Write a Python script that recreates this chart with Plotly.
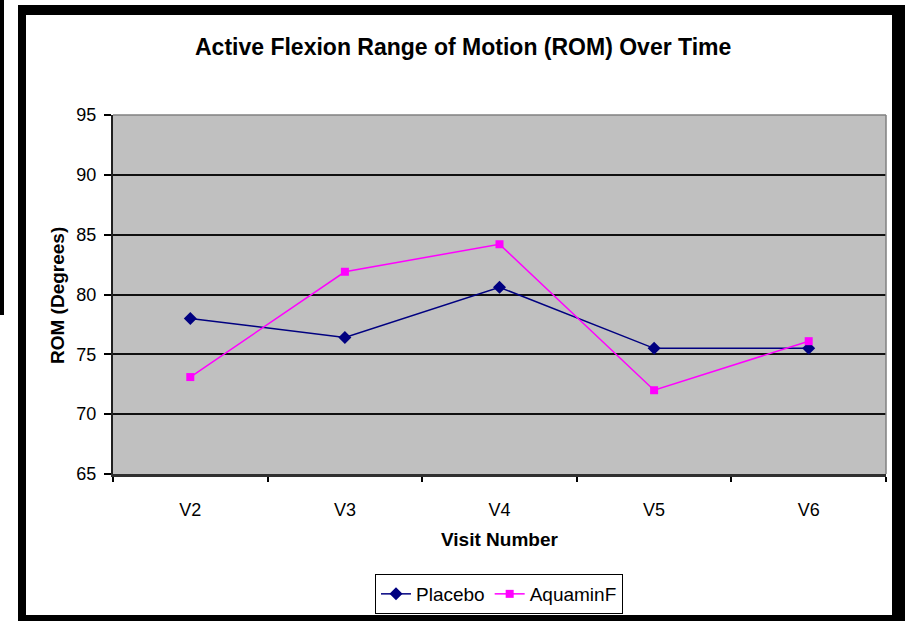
import plotly.graph_objects as go

visits = ["V2", "V3", "V4", "V5", "V6"]
placebo = [78.0, 76.4, 80.6, 75.5, 75.5]
aquaminf = [73.1, 81.9, 84.2, 72.0, 76.1]
y_ticks = [65, 70, 75, 80, 85, 90, 95]

W, H = 905, 621
L, R, T, B = 113, 19, 115, 147
PW, PH = W - L - R, H - T - B

def px(x):
    return (x - L) / PW

def py(y):
    return (H - B - y) / PH

FONT = "Arial, 'Liberation Sans', sans-serif"

fig = go.Figure()
fig.add_trace(go.Scatter(
    x=visits, y=placebo, name="Placebo", mode="lines+markers",
    line=dict(color="#000080", width=1.5),
    marker=dict(symbol="diamond", size=10, color="#000080"),
))
fig.add_trace(go.Scatter(
    x=visits, y=aquaminf, name="AquaminF", mode="lines+markers",
    line=dict(color="#FF00FF", width=1.5),
    marker=dict(symbol="square", size=8, color="#FF00FF"),
))

shapes = []
def rect(x0, y0, x1, y1, color="black"):
    shapes.append(dict(type="rect", xref="paper", yref="paper",
                       x0=px(x0), x1=px(x1), y0=py(y1), y1=py(y0),
                       fillcolor=color, line=dict(width=0), layer="above"))

# outer black frame and strip
rect(0, 0, 4, 315)
rect(18, 5, 26, 621)
rect(18, 5, 905, 15)
rect(892, 5, 905, 621)
rect(18, 615, 905, 621)

# gray top/right plot border
shapes.append(dict(type="line", xref="paper", yref="paper", x0=0, x1=1, y0=1, y1=1,
                   line=dict(color="#808080", width=1.5)))
shapes.append(dict(type="line", xref="paper", yref="paper", x0=1, x1=1, y0=0, y1=1,
                   line=dict(color="#808080", width=1.5)))

annotations = [
    dict(text="<b>Active Flexion Range of Motion (ROM) Over Time</b>", xref="paper", yref="paper",
         x=px(463), y=py(47), showarrow=False, xanchor="center", yanchor="middle",
         font=dict(family=FONT, size=23, color="black")),
    dict(text="<b>Visit Number</b>", xref="paper", yref="paper",
         x=px(499), y=py(539), showarrow=False, xanchor="center", yanchor="middle",
         font=dict(family=FONT, size=19, color="black")),
    dict(text="<b>ROM (Degrees)</b>", xref="paper", yref="paper", textangle=-90,
         x=px(57), y=py(296), showarrow=False, xanchor="center", yanchor="middle",
         font=dict(family=FONT, size=19, color="black")),
]

fig.update_layout(
    width=W, height=H, autosize=False,
    margin=dict(l=L, r=R, t=T, b=B, pad=0, autoexpand=False),
    paper_bgcolor="white",
    plot_bgcolor="#C0C0C0",
    font=dict(family=FONT, size=18, color="black"),
    showlegend=True,
    legend=dict(orientation="h", xref="container", yref="container",
                x=499 / W, xanchor="center", y=1 - 574 / H, yanchor="top",
                bgcolor="white", bordercolor="black", borderwidth=1,
                font=dict(family=FONT, size=19, color="black"),
                itemwidth=30, tracegroupgap=0),
    shapes=shapes,
    annotations=annotations,
    xaxis=dict(type="category", categoryorder="array", categoryarray=visits,
               range=[-0.5, 4.5], showgrid=False, zeroline=False, automargin=False,
               showline=True, linecolor="#303030", linewidth=2.5,
               ticks="outside", tickson="boundaries", ticklen=5, tickcolor="black",
               tickwidth=1.5, ticklabelstandoff=18,
               tickfont=dict(family=FONT, size=18, color="black")),
    yaxis=dict(range=[65, 95], tickvals=y_ticks, showgrid=True, gridcolor="#101010",
               gridwidth=1.5, zeroline=False, showline=True, linecolor="#202020",
               linewidth=2, ticks="outside", ticklen=7, tickcolor="black", tickwidth=1.5,
               ticklabelstandoff=4, automargin=False,
               tickfont=dict(family=FONT, size=18, color="black")),
)

fig.write_html("out.html", config={"displayModeBar": False},
               post_script="document.body.style.margin='0px';document.body.style.overflow='hidden';")
